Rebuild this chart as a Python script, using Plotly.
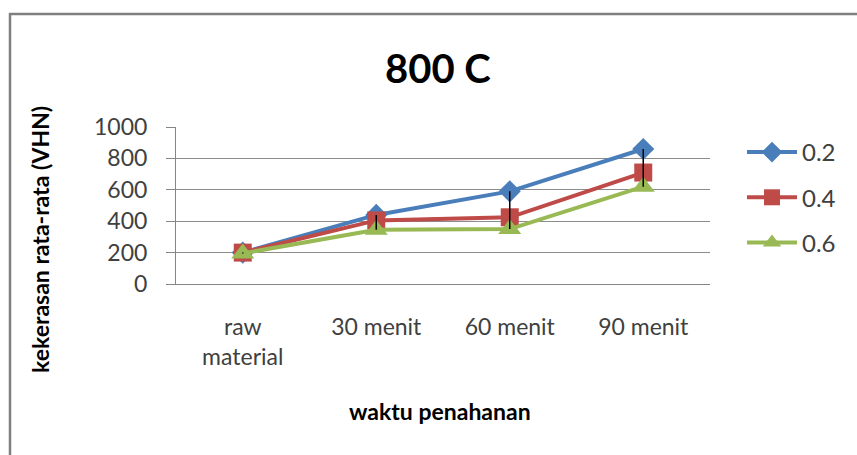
import plotly.graph_objects as go

# Hardness vs holding time at 800 C
categories = ["raw<br>material", "30 menit", "60 menit", "90 menit"]
series_names = ["0.2", "0.4", "0.6"]
hardness_02 = [200, 440, 590, 860]
hardness_04 = [200, 405, 425, 710]
hardness_06 = [195, 345, 350, 620]
y_ticks = [0, 200, 400, 600, 800, 1000]

series_values = [hardness_02, hardness_04, hardness_06]
colors = ["#4A7EBB", "#BE4B48", "#98B954"]
symbols = ["diamond", "square", "triangle-up"]
marker_sizes = [17, 18, 20]

FONT = "Lato, 'Open Sans', sans-serif"
W, H = 857, 455
L, R, T, B = 176, 147, 127, 171  # plot area margins in px

fig = go.Figure()
for name, vals, col, sym, ms in zip(series_names, series_values, colors, symbols, marker_sizes):
    fig.add_trace(go.Scatter(
        x=categories, y=vals, name=name, mode="lines+markers",
        line=dict(color=col, width=4),
        marker=dict(symbol=sym, size=ms, color=col),
        legendgroup=name,
    ))

# high-low lines joining the highest and lowest series at each category
hl_x, hl_y = [], []
for i, c in enumerate(categories):
    col_vals = [s[i] for s in series_values]
    hl_x += [c, c, None]
    hl_y += [max(col_vals), min(col_vals), None]
fig.add_trace(go.Scatter(x=hl_x, y=hl_y, mode="lines", showlegend=False,
                         line=dict(color="black", width=1.5), hoverinfo="skip"))

pw, ph = W - L - R, H - T - B
def px_x(p):
    return (p - L) / pw
def px_y(p):
    return (H - B - p) / ph

fig.update_layout(
    width=W, height=H,
    margin=dict(l=L, r=R, t=T, b=B, pad=0),
    paper_bgcolor="white", plot_bgcolor="white",
    font=dict(family=FONT, color="#404040", size=23),
    showlegend=True,
    legend=dict(
        x=px_x(742), y=px_y(130), xanchor="left", yanchor="top",
        font=dict(size=24, color="#404040"),
        itemwidth=50, tracegroupgap=11, bgcolor="rgba(0,0,0,0)",
    ),
    xaxis=dict(
        type="category", range=[-0.5, 3.5],
        showgrid=False, showline=True, linecolor="#868686", linewidth=1,
        ticks="", tickfont=dict(size=23, color="#404040"), ticklabelstandoff=22,
        zeroline=False,
    ),
    yaxis=dict(
        range=[0, 1000], tickvals=y_ticks,
        showgrid=True, gridcolor="#8C8C8C", gridwidth=1,
        showline=True, linecolor="#868686", linewidth=1,
        ticks="outside", ticklen=9, tickcolor="#868686",
        tickfont=dict(size=23, color="#404040"), ticklabelstandoff=14,
        zeroline=False,
    ),
    annotations=[
        dict(text="<b>800 C</b>", x=px_x(438), y=px_y(68), xref="paper", yref="paper",
             showarrow=False, font=dict(size=40, color="black", family=FONT),
             xanchor="center", yanchor="middle"),
        dict(text="<b>kekerasan rata-rata (VHN)</b>", x=px_x(40), y=px_y(240),
             xref="paper", yref="paper", showarrow=False, textangle=-90,
             font=dict(size=23, color="black", family=FONT),
             xanchor="center", yanchor="middle"),
        dict(text="<b>waktu penahanan</b>", x=px_x(440), y=px_y(411),
             xref="paper", yref="paper", showarrow=False,
             font=dict(size=23, color="black", family=FONT),
             xanchor="center", yanchor="middle"),
    ],
    shapes=[
        # chart frame (top and left edges visible)
        dict(type="line", xref="paper", yref="paper",
             x0=px_x(9), x1=px_x(W + 5), y0=px_y(14), y1=px_y(14),
             line=dict(color="#7F7F7F", width=2.5)),
        dict(type="line", xref="paper", yref="paper",
             x0=px_x(10), x1=px_x(10), y0=px_y(13), y1=px_y(H + 5),
             line=dict(color="#7F7F7F", width=2.5)),
    ],
)

fig.write_html("out.html")
